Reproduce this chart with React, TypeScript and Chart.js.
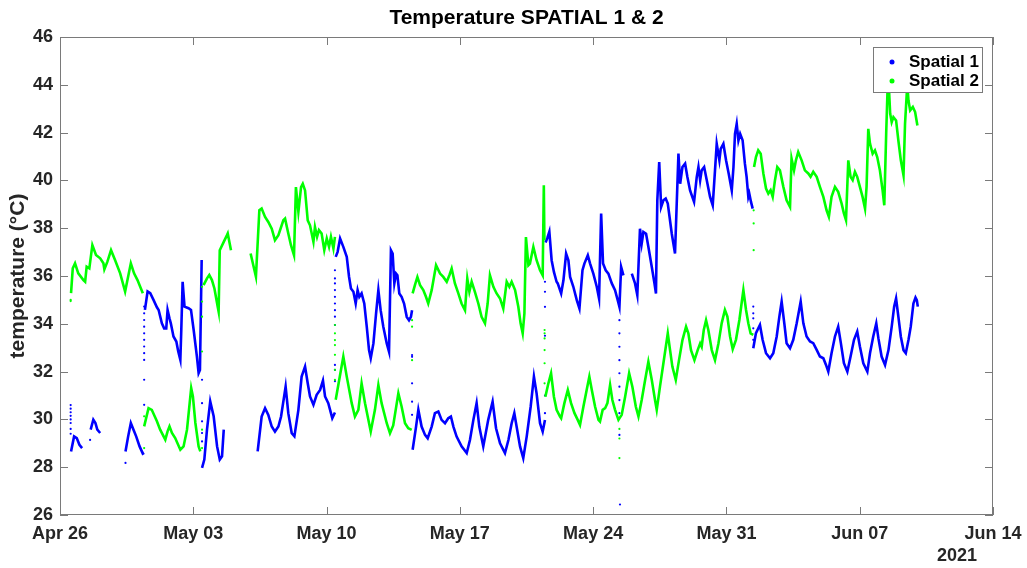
import React, { useEffect, useRef } from "react";
import { Chart, registerables } from "chart.js";

Chart.register(...registerables);

// ---- axis ticks ----
const xTickLabels = ["Apr 26", "May 03", "May 10", "May 17", "May 24", "May 31", "Jun 07", "Jun 14"];
const xMinDay = 0;
const xMaxDay = 49;
const xStepDays = 7;
const yMinTemp = 26;
const yMaxTemp = 46;
const yStepTemp = 2;
const yearLabel = "2021";
const seriesNames = ["Spatial 1", "Spatial 2"];

// ---- Spatial 1 (days since Apr 26, °C) ----
const s1SegA = [[0.58, 28.66], [0.74, 29.29], [0.88, 29.22], [1.02, 28.94], [1.16, 28.8]];
const s1SegB = [[1.61, 29.57], [1.75, 29.99], [1.86, 29.85], [1.96, 29.57], [2.11, 29.43]];
const s1SegC = [[3.44, 28.66], [3.58, 29.29], [3.72, 29.85], [3.86, 29.57], [4.0, 29.29], [4.18, 28.87], [4.35, 28.57], [4.42, 28.6]];
const s1SegD = [[4.46, 34.58], [4.6, 35.35], [4.74, 35.28], [4.91, 35.0], [5.09, 34.69], [5.18, 34.58], [5.35, 34.02], [5.47, 33.81], [5.58, 33.81], [5.65, 34.58], [5.75, 34.23], [5.82, 34.02], [5.96, 33.47], [6.11, 33.26], [6.21, 32.84], [6.32, 32.49], [6.37, 33.74], [6.44, 35.76], [6.54, 34.72], [6.75, 34.65], [6.88, 34.58], [7.02, 33.74], [7.19, 32.63], [7.28, 31.94], [7.35, 32.07], [7.44, 36.67]];
const s1SegE = [[7.46, 27.97], [7.58, 28.32], [7.72, 29.57], [7.89, 30.75], [8.07, 30.13], [8.25, 28.87], [8.39, 28.32], [8.51, 28.46], [8.6, 29.57]];
const s1SegF = [[10.38, 28.66], [10.59, 30.12], [10.77, 30.47], [10.94, 30.19], [11.12, 29.7], [11.29, 29.49], [11.47, 29.7], [11.61, 30.12], [11.85, 31.37], [11.99, 30.26], [12.17, 29.42], [12.31, 29.29], [12.52, 30.4], [12.69, 31.79], [12.87, 32.21], [13.01, 31.51], [13.13, 30.96], [13.31, 30.61], [13.48, 31.03], [13.66, 31.23], [13.81, 31.62], [13.92, 30.96], [14.09, 30.68], [14.3, 30.05], [14.44, 30.29]];
const s1SegG = [[14.48, 36.8], [14.58, 37.01], [14.71, 37.57], [14.88, 37.22], [15.06, 36.8], [15.18, 35.97], [15.28, 35.48], [15.41, 35.34], [15.53, 34.85], [15.63, 35.41], [15.72, 35.13], [15.84, 35.27], [15.98, 34.85], [16.11, 33.88], [16.23, 32.9], [16.32, 32.56], [16.46, 33.18], [16.6, 34.44], [16.72, 35.41], [16.84, 34.57], [16.98, 33.88], [17.16, 33.18], [17.28, 32.83], [17.38, 37.08], [17.47, 36.94], [17.56, 35.69], [17.65, 36.1], [17.72, 36.03], [17.82, 35.27], [17.94, 35.13], [18.07, 34.85], [18.21, 34.29], [18.33, 34.15], [18.43, 34.29], [18.49, 34.57]];
const s1SegH = [[18.52, 28.73], [18.7, 29.7], [18.82, 30.4], [18.99, 29.7], [19.17, 29.35], [19.31, 29.21], [19.52, 29.7], [19.69, 30.26], [19.87, 30.33], [20.04, 29.98], [20.22, 29.84], [20.39, 30.05], [20.53, 30.12], [20.66, 29.7], [20.83, 29.28], [21.09, 28.87], [21.36, 28.59], [21.53, 29.14], [21.71, 29.98], [21.88, 30.68], [22.02, 29.7], [22.23, 28.87], [22.49, 29.98], [22.72, 30.74], [22.9, 29.63], [23.11, 29.0], [23.37, 28.59], [23.55, 29.14], [23.72, 29.84], [23.86, 30.26], [23.98, 29.7], [24.16, 28.87], [24.33, 28.38], [24.51, 29.28], [24.72, 30.54], [24.89, 31.79], [25.03, 31.09], [25.21, 29.84], [25.35, 29.49], [25.47, 29.98]];
const s1SegI = [[25.5, 37.4], [25.6, 37.6], [25.7, 37.85], [25.82, 36.66], [25.94, 36.17], [26.08, 35.76], [26.14, 35.69], [26.32, 35.27], [26.44, 35.82], [26.58, 36.94], [26.7, 36.66], [26.79, 35.96], [26.96, 35.55], [27.14, 34.99], [27.28, 34.64], [27.44, 36.24], [27.54, 36.52], [27.72, 36.87], [27.84, 36.52], [28.01, 36.1], [28.19, 35.55], [28.31, 35.06], [28.42, 38.61], [28.52, 36.52], [28.66, 36.24], [28.8, 36.1], [28.98, 35.69], [29.15, 35.41], [29.29, 34.99], [29.38, 34.71], [29.47, 36.38], [29.59, 36.03]];
const s1SegJ = [[30.03, 36.1], [30.2, 35.69], [30.32, 35.2], [30.46, 37.98], [30.55, 37.36], [30.64, 37.84], [30.78, 37.77], [30.9, 37.22], [31.08, 36.38], [31.22, 35.69], [31.3, 35.27], [31.37, 39.16], [31.47, 40.77], [31.57, 38.89], [31.69, 39.17], [31.81, 39.24], [31.92, 39.03], [32.13, 37.77], [32.3, 36.94], [32.48, 41.12], [32.57, 39.86], [32.69, 40.56], [32.83, 40.7], [32.95, 40.14], [33.09, 39.58], [33.3, 39.1], [33.44, 40.14], [33.53, 40.56], [33.62, 40.0], [33.7, 40.42], [33.83, 40.56], [33.97, 40.0], [34.14, 39.31], [34.28, 38.96], [34.4, 40.42], [34.49, 41.53], [34.63, 40.84], [34.7, 41.32], [34.84, 41.53], [34.98, 40.84], [35.12, 40.28], [35.28, 39.58], [35.37, 40.56], [35.45, 41.95], [35.54, 42.37], [35.63, 41.67], [35.72, 41.95], [35.85, 41.68], [35.97, 40.7], [36.06, 40.15], [36.15, 39.31], [36.2, 39.45], [36.29, 39.1], [36.38, 38.82]];
const s1SegK = [[36.41, 32.98], [36.55, 33.61], [36.76, 33.95], [36.9, 33.33], [37.08, 32.77], [37.29, 32.56], [37.46, 32.77], [37.64, 33.47], [37.78, 34.3], [37.9, 34.93], [38.04, 34.02], [38.16, 33.19], [38.34, 32.98], [38.51, 33.33], [38.69, 34.02], [38.9, 34.93], [39.04, 34.02], [39.21, 33.47], [39.39, 33.26], [39.56, 33.19], [39.74, 32.91], [39.91, 32.63], [40.09, 32.56], [40.23, 32.28], [40.35, 32.0], [40.52, 32.77], [40.7, 33.47], [40.87, 33.88], [41.01, 33.19], [41.17, 32.35], [41.35, 32.0], [41.52, 32.63], [41.7, 33.33], [41.87, 33.68], [42.01, 33.05], [42.19, 32.35], [42.4, 32.0], [42.54, 32.77], [42.71, 33.47], [42.87, 34.02], [42.98, 33.4], [43.15, 32.63], [43.33, 32.28], [43.51, 32.9], [43.68, 33.88], [43.81, 34.72], [43.91, 35.06], [44.03, 34.3], [44.16, 33.46], [44.3, 32.9], [44.42, 32.77], [44.56, 33.32], [44.68, 33.88], [44.82, 34.85], [44.93, 35.1], [45.0, 34.99], [45.05, 34.72]];
const s1Dots = [
  [0.56, 30.6], [0.56, 30.45], [0.56, 30.3], [0.56, 30.15], [0.56, 30.0], [0.56, 29.85], [0.56, 29.6], [0.56, 29.4],
  [1.58, 29.14], [3.44, 28.18],
  [4.42, 34.72], [4.42, 34.44], [4.42, 34.16], [4.42, 33.88], [4.42, 33.6], [4.42, 33.33], [4.42, 33.05], [4.42, 32.77], [4.42, 32.49], [4.42, 31.66], [4.42, 30.61],
  [7.46, 31.66], [7.46, 30.68], [7.46, 29.92], [7.46, 29.43], [7.46, 29.08],
  [14.44, 36.24], [14.44, 35.9], [14.44, 35.69], [14.44, 35.41], [14.44, 35.13], [14.44, 34.85], [14.44, 34.57], [14.44, 34.3], [14.44, 33.95], [14.44, 32.28], [14.44, 32.07], [14.44, 31.6],
  [18.49, 32.69], [18.49, 32.62], [18.49, 31.51], [18.49, 30.74], [18.49, 30.19],
  [25.47, 35.76], [25.47, 35.34], [25.47, 34.71], [25.47, 33.5], [25.47, 31.0], [25.47, 30.26],
  [29.38, 34.15], [29.38, 33.6], [29.38, 33.04], [29.38, 32.48], [29.38, 31.93], [29.38, 31.37], [29.38, 30.81], [29.38, 30.26], [29.38, 29.35], [29.41, 26.44],
  [36.41, 34.72], [36.41, 34.44], [36.41, 34.23], [36.41, 33.81], [36.41, 33.33],
];

// ---- Spatial 2 ----
const s2SegA = [[0.58, 35.28], [0.67, 36.32], [0.79, 36.53], [0.96, 36.11], [1.23, 35.83], [1.32, 35.76], [1.4, 36.39], [1.54, 36.32], [1.7, 37.29], [1.89, 36.88], [2.11, 36.74], [2.28, 36.53], [2.33, 36.28], [2.49, 36.6], [2.68, 37.08], [2.89, 36.67], [3.16, 36.11], [3.42, 35.35], [3.72, 36.53], [3.89, 36.11], [4.07, 35.83], [4.35, 35.28]];
const s2SegB = [[4.42, 29.71], [4.65, 30.47], [4.82, 30.4], [5.09, 29.92], [5.26, 29.57], [5.53, 29.15], [5.65, 29.5], [5.75, 29.71], [5.88, 29.43], [6.05, 29.22], [6.32, 28.73], [6.49, 28.87], [6.67, 29.57], [6.81, 30.68], [6.89, 31.31], [6.98, 30.96], [7.11, 29.85], [7.28, 28.87], [7.37, 28.66]];
const s2SegC = [[7.54, 35.62], [7.72, 35.9], [7.84, 36.04], [7.98, 35.83], [8.11, 35.48], [8.28, 34.72], [8.33, 34.51], [8.39, 37.08], [8.6, 37.43], [8.77, 37.71], [8.81, 37.78], [8.98, 37.08]];
const s2SegD = [[10.01, 36.94], [10.29, 35.97], [10.47, 38.75], [10.59, 38.82], [10.77, 38.47], [10.94, 38.26], [11.12, 37.98], [11.29, 37.5], [11.47, 37.71], [11.73, 38.33], [11.82, 38.4], [11.99, 37.78], [12.13, 37.29], [12.29, 36.87], [12.39, 39.72], [12.52, 38.68], [12.66, 39.72], [12.75, 39.86], [12.87, 39.58], [13.01, 38.33], [13.13, 38.12], [13.31, 37.43], [13.39, 38.05], [13.5, 37.64], [13.6, 37.92], [13.74, 37.78], [13.88, 37.08], [14.01, 37.57], [14.13, 37.22], [14.23, 37.64], [14.36, 37.15], [14.44, 37.64]];
const s2SegE = [[14.48, 30.82], [14.88, 32.63], [15.06, 31.79], [15.32, 30.68], [15.49, 30.12], [15.67, 30.4], [15.84, 31.51], [16.02, 30.68], [16.32, 29.49], [16.54, 30.4], [16.72, 31.44], [16.89, 30.68], [17.16, 29.84], [17.33, 29.42], [17.5, 29.75], [17.77, 31.09], [17.94, 30.54], [18.12, 29.84], [18.29, 29.63], [18.47, 29.56]];
const s2SegF = [[18.52, 35.27], [18.64, 35.62], [18.77, 35.96], [18.91, 35.62], [19.08, 35.41], [19.22, 35.13], [19.34, 34.85], [19.52, 35.41], [19.75, 36.45], [19.96, 36.1], [20.13, 35.96], [20.31, 35.76], [20.45, 36.03], [20.57, 36.31], [20.74, 35.69], [20.92, 35.27], [21.09, 34.85], [21.27, 34.57], [21.39, 35.89], [21.5, 35.34], [21.62, 35.76], [21.79, 35.34], [21.97, 34.85], [22.14, 34.29], [22.32, 34.02], [22.46, 34.85], [22.58, 36.03], [22.76, 35.55], [22.93, 35.27], [23.11, 35.06], [23.28, 34.64], [23.46, 35.76], [23.6, 35.55], [23.72, 35.76], [23.9, 35.41], [24.07, 34.71], [24.19, 34.02], [24.3, 33.6], [24.39, 34.43], [24.47, 37.63], [24.6, 36.45], [24.68, 36.52], [24.86, 37.22], [25.03, 36.66], [25.21, 36.24], [25.35, 36.03], [25.41, 39.8], [25.44, 37.5]];
const s2SegG = [[25.49, 30.95], [25.65, 31.51], [25.79, 31.93], [25.94, 30.95], [26.08, 30.4], [26.26, 30.12], [26.32, 30.05], [26.49, 30.68], [26.67, 31.23], [26.84, 30.68], [27.02, 30.26], [27.19, 29.98], [27.31, 29.77], [27.49, 30.54], [27.66, 31.23], [27.8, 31.79], [27.93, 31.23], [28.1, 30.54], [28.28, 29.98], [28.36, 29.91], [28.5, 30.4], [28.63, 30.47], [28.75, 30.68], [28.89, 31.44], [29.01, 30.81], [29.15, 30.4], [29.33, 29.98], [29.5, 30.19], [29.68, 30.95], [29.89, 31.93], [30.06, 31.37], [30.24, 30.54], [30.38, 30.12], [30.55, 30.81], [30.73, 31.65], [30.9, 32.41], [31.08, 31.65], [31.25, 30.81], [31.34, 30.4], [31.51, 31.37], [31.69, 32.35], [31.92, 33.6], [32.04, 32.9], [32.16, 32.21], [32.34, 31.65], [32.51, 32.48], [32.69, 33.32], [32.88, 33.88], [33.0, 33.6], [33.14, 32.9], [33.32, 32.48], [33.49, 32.9], [33.62, 33.18], [33.7, 33.04], [33.81, 33.74], [33.93, 34.15], [34.05, 33.74], [34.23, 32.9], [34.4, 32.48], [34.58, 33.18], [34.75, 34.02], [34.92, 34.58], [35.05, 34.3], [35.19, 33.47], [35.33, 32.94], [35.5, 33.33], [35.68, 34.16], [35.89, 35.41], [36.03, 34.58], [36.15, 34.02], [36.27, 33.6], [36.41, 33.54]];
const s2SegH = [[36.45, 40.56], [36.55, 40.98], [36.67, 41.26], [36.8, 41.12], [36.94, 40.29], [37.08, 39.66], [37.2, 39.45], [37.32, 39.59], [37.43, 39.31], [37.55, 40.01], [37.67, 40.56], [37.81, 40.42], [37.99, 39.73], [38.16, 39.17], [38.34, 38.89], [38.42, 40.91], [38.55, 40.42], [38.65, 40.84], [38.77, 41.19], [38.95, 40.84], [39.12, 40.42], [39.3, 40.29], [39.42, 40.15], [39.56, 40.36], [39.74, 40.15], [39.91, 39.73], [40.09, 39.31], [40.26, 38.75], [40.38, 38.48], [40.52, 39.31], [40.7, 39.73], [40.87, 39.52], [41.05, 39.03], [41.17, 38.62], [41.28, 38.34], [41.4, 40.84], [41.52, 40.15], [41.63, 40.01], [41.75, 40.36], [41.87, 40.15], [42.01, 39.73], [42.15, 39.31], [42.28, 38.82], [42.36, 39.73], [42.45, 42.16], [42.54, 41.54], [42.68, 41.12], [42.8, 41.26], [42.92, 40.98], [43.06, 40.42], [43.2, 39.59], [43.29, 38.96], [43.39, 41.95], [43.46, 43.76], [43.52, 44.1], [43.6, 42.79], [43.68, 42.44], [43.77, 42.65], [43.91, 42.51], [44.03, 41.67], [44.16, 40.84], [44.3, 40.21], [44.38, 42.37], [44.47, 43.62], [44.51, 43.9], [44.56, 43.34], [44.65, 42.93], [44.79, 43.07], [44.91, 42.86], [45.03, 42.3]];
const s2Dots = [
  [0.56, 35.0], [0.56, 34.95],
  [4.42, 30.13], [4.42, 28.8],
  [7.46, 29.57], [7.46, 28.8], [7.46, 32.84], [7.46, 34.3], [7.46, 34.93], [7.46, 35.55],
  [14.44, 33.95], [14.44, 33.6], [14.44, 33.32], [14.44, 33.11], [14.44, 32.7], [14.44, 32.07], [14.44, 31.65],
  [18.49, 34.15], [18.49, 33.88], [18.49, 32.48],
  [25.45, 33.74], [25.45, 33.6], [25.45, 33.39], [25.45, 32.9], [25.45, 32.35], [25.45, 31.51],
  [29.38, 29.6], [29.38, 29.2], [29.38, 28.38],
  [36.43, 38.75], [36.43, 38.2], [36.43, 37.08],
];

const spatial1Segments = [s1SegA, s1SegB, s1SegC, s1SegD, s1SegE, s1SegF, s1SegG, s1SegH, s1SegI, s1SegJ, s1SegK];
const spatial2Segments = [s2SegA, s2SegB, s2SegC, s2SegD, s2SegE, s2SegF, s2SegG, s2SegH];

const BLUE = "#0000ff";
const GREEN = "#00ff00";
const AXIS_GRAY = "#7a7a7a";
const TEXT_DARK = "#262626";
const FONT_FAMILY = '"Liberation Sans", Arial, Helvetica, sans-serif';

function joinSegments(segs: number[][][]) {
  const out: { x: number; y: number | null }[] = [];
  segs.forEach((seg, i) => {
    if (i > 0) {
      const prev = segs[i - 1];
      out.push({ x: (prev[prev.length - 1][0] + seg[0][0]) / 2, y: null });
    }
    seg.forEach(([x, y]) => out.push({ x, y }));
  });
  return out;
}
const toPoints = (arr: number[][]) => arr.map(([x, y]) => ({ x, y }));

const framePlugin = {
  id: "matlabFrame",
  afterDraw(chart: any) {
    const { ctx, chartArea, scales } = chart;
    const { left, right, top, bottom } = chartArea;
    const xs = scales.x;
    const ys = scales.y;
    ctx.save();
    ctx.strokeStyle = AXIS_GRAY;
    ctx.lineWidth = 1;
    ctx.strokeRect(left + 0.5, top + 0.5, right - left - 1, bottom - top - 1);
    const tl = 8;
    ctx.beginPath();
    ys.ticks.forEach((t: any) => {
      const py = Math.round(ys.getPixelForValue(t.value)) + 0.5;
      ctx.moveTo(left, py); ctx.lineTo(left + tl, py);
      ctx.moveTo(right, py); ctx.lineTo(right - tl, py);
    });
    xs.ticks.forEach((t: any) => {
      const px = Math.round(xs.getPixelForValue(t.value)) + 0.5;
      ctx.moveTo(px, bottom); ctx.lineTo(px, bottom - tl);
      ctx.moveTo(px, top); ctx.lineTo(px, top + tl);
    });
    ctx.stroke();

    // title
    ctx.fillStyle = "#000";
    ctx.font = `bold 21px ${FONT_FAMILY}`;
    ctx.textAlign = "center";
    ctx.textBaseline = "middle";
    ctx.fillText("Temperature SPATIAL 1 & 2", (left + right) / 2, 18);

    // year
    ctx.fillStyle = TEXT_DARK;
    ctx.font = `bold 18px ${FONT_FAMILY}`;
    ctx.fillText(yearLabel, right - 36, 556);

    // legend
    const lx = right - 120, ly = top + 10, lw = 110, lh = 46;
    ctx.fillStyle = "#fff";
    ctx.fillRect(lx, ly, lw, lh);
    ctx.strokeStyle = AXIS_GRAY;
    ctx.strokeRect(lx + 0.5, ly + 0.5, lw - 1, lh - 1);
    const colors = [BLUE, GREEN];
    seriesNames.forEach((name, i) => {
      const cy = ly + 15 + i * 19;
      ctx.fillStyle = colors[i];
      ctx.beginPath();
      ctx.arc(lx + 19, cy, 2.5, 0, Math.PI * 2);
      ctx.fill();
      ctx.fillStyle = "#000";
      ctx.font = `bold 17px ${FONT_FAMILY}`;
      ctx.textAlign = "left";
      ctx.textBaseline = "middle";
      ctx.fillText(name, lx + 36, cy);
    });
    ctx.restore();
  },
};

export default function App() {
  const canvasRef = useRef<HTMLCanvasElement | null>(null);

  useEffect(() => {
    if (!canvasRef.current) return;
    const chart = new Chart(canvasRef.current, {
      type: "line",
      data: {
        datasets: [
          { label: seriesNames[0], data: joinSegments(spatial1Segments), borderColor: BLUE, borderWidth: 2.6, pointRadius: 0, spanGaps: false, order: 3 },
          { label: seriesNames[0] + " pts", data: toPoints(s1Dots), showLine: false, pointRadius: 1.1, pointBackgroundColor: BLUE, pointBorderWidth: 0, borderColor: BLUE, order: 2 },
          { label: seriesNames[1], data: joinSegments(spatial2Segments), borderColor: GREEN, borderWidth: 2.6, pointRadius: 0, spanGaps: false, order: 1 },
          { label: seriesNames[1] + " pts", data: toPoints(s2Dots), showLine: false, pointRadius: 1.1, pointBackgroundColor: GREEN, pointBorderWidth: 0, borderColor: GREEN, order: 0 },
        ] as any,
      },
      options: {
        animation: false,
        responsive: false,
        devicePixelRatio: 1,
        events: [],
        layout: { padding: { top: 37, right: 34, left: 0, bottom: 0 } },
        plugins: { legend: { display: false }, tooltip: { enabled: false }, title: { display: false } },
        elements: { line: { tension: 0 } },
        scales: {
          x: {
            type: "linear",
            min: xMinDay,
            max: xMaxDay,
            grid: { display: false, drawTicks: false },
            border: { display: false },
            ticks: {
              stepSize: xStepDays,
              autoSkip: false,
              maxRotation: 0,
              minRotation: 0,
              padding: 8,
              color: TEXT_DARK,
              font: { family: FONT_FAMILY, size: 18, weight: "bold" },
              callback: (v: any) => xTickLabels[Math.round(Number(v) / xStepDays)] ?? "",
            },
            afterFit: (s: any) => { s.height = 53; s.paddingLeft = 0; s.paddingRight = 0; },
          },
          y: {
            type: "linear",
            min: yMinTemp,
            max: yMaxTemp,
            grid: { display: false, drawTicks: false },
            border: { display: false },
            ticks: {
              stepSize: yStepTemp,
              padding: 7,
              color: TEXT_DARK,
              font: { family: FONT_FAMILY, size: 18, weight: "bold" },
            },
            title: {
              display: true,
              text: "temperature (°C)",
              color: TEXT_DARK,
              font: { family: FONT_FAMILY, size: 21, weight: "bold" },
              padding: { top: 6, bottom: 0 },
            },
            afterFit: (s: any) => { s.width = 60; s.paddingTop = 0; s.paddingBottom = 0; },
          },
        },
      } as any,
      plugins: [framePlugin],
    });
    return () => chart.destroy();
  }, []);

  return (
    <div style={{ position: "absolute", left: 0, top: 0, width: 1027, height: 568, background: "#fff" }}>
      <canvas ref={canvasRef} width={1027} height={568} style={{ display: "block" }} />
    </div>
  );
}
